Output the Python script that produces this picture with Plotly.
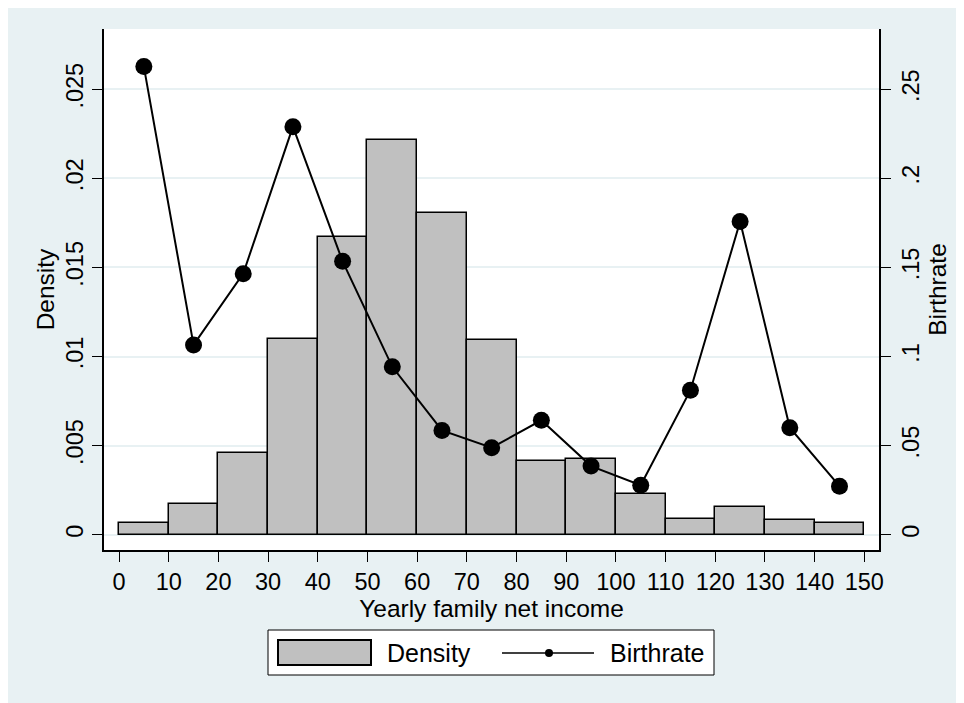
import plotly.graph_objects as go

# ---- data ----
income_mid = [5, 15, 25, 35, 45, 55, 65, 75, 85, 95, 105, 115, 125, 135, 145]
density = [0.00063, 0.0017, 0.00457, 0.01099, 0.0167, 0.02214, 0.01805, 0.01091,
           0.00416, 0.00426, 0.0023, 0.00087, 0.00155, 0.00082, 0.00067]
birthrate = [0.2627, 0.1065, 0.1465, 0.229, 0.1534, 0.0942, 0.0585, 0.0488,
             0.0642, 0.0385, 0.0278, 0.0811, 0.1758, 0.060, 0.0272]
x_ticks = [0, 10, 20, 30, 40, 50, 60, 70, 80, 90, 100, 110, 120, 130, 140, 150]
y1_ticks = [0, 0.005, 0.01, 0.015, 0.02, 0.025]
y1_labels = ["0", ".005", ".01", ".015", ".02", ".025"]
y2_ticks = [0, 0.05, 0.1, 0.15, 0.2, 0.25]
y2_labels = ["0", ".05", ".1", ".15", ".2", ".25"]

BG = "#E8F1F3"
FONT = "Liberation Sans, Arial, sans-serif"
OFF = 8  # page body margin

fig = go.Figure()
fig.add_trace(go.Bar(
    x=income_mid, y=density, width=10, name="Density",
    marker=dict(color="#C0C0C0", line=dict(color="black", width=1.5)),
    showlegend=False,
))
fig.add_trace(go.Scatter(
    x=income_mid, y=birthrate, yaxis="y2", mode="lines+markers", name="Birthrate",
    line=dict(color="black", width=2),
    marker=dict(color="black", size=17),
    showlegend=False,
))

W, H = 964 - OFF, 703
# target screen coordinates of the plot frame
L, R, T, B = 104, 879, 29, 550


def px(x):
    return (x - L) / (R - L)


def py(y):
    return (B - y) / (B - T)


shapes = [
    # legend box
    dict(type="rect", xref="paper", yref="paper",
         x0=px(268), x1=px(714), y0=py(630), y1=py(675),
         fillcolor="white", line=dict(color="black", width=1)),
    # legend bar symbol
    dict(type="rect", xref="paper", yref="paper",
         x0=px(278), x1=px(371), y0=py(640), y1=py(665),
         fillcolor="#C0C0C0", line=dict(color="black", width=2)),
    # legend line symbol
    dict(type="line", xref="paper", yref="paper",
         x0=px(502), x1=px(594), y0=py(653), y1=py(653),
         line=dict(color="black", width=1.5)),
    dict(type="circle", xref="paper", yref="paper",
         xsizemode="pixel", ysizemode="pixel",
         xanchor=px(549), yanchor=py(653), x0=-4, x1=4, y0=-4, y1=4,
         fillcolor="black", line=dict(color="black", width=0)),
]

annotations = [
    dict(text="Density", xref="paper", yref="paper", x=px(385), y=py(653),
         xanchor="left", yanchor="middle", showarrow=False,
         font=dict(family=FONT, size=25, color="black")),
    dict(text="Birthrate", xref="paper", yref="paper", x=px(608), y=py(653),
         xanchor="left", yanchor="middle", showarrow=False,
         font=dict(family=FONT, size=25, color="black")),
]

fig.update_layout(
    width=W, height=H,
    margin=dict(l=L - OFF, r=964 - R, t=T - OFF, b=H + OFF - B, pad=0),
    paper_bgcolor=BG,
    plot_bgcolor="white",
    font=dict(family=FONT, size=23, color="black"),
    bargap=0,
    shapes=shapes,
    annotations=annotations,
    xaxis=dict(
        range=[-3.02, 152.95], tickmode="array", tickvals=x_ticks,
        ticks="outside", ticklen=10, tickwidth=1, tickcolor="black",
        showline=True, linecolor="black", linewidth=1.5,
        showgrid=False, zeroline=False,
        tickfont=dict(size=23.5),
        title=dict(text="Yearly family net income", font=dict(size=24.5), standoff=2),
    ),
    yaxis=dict(
        range=[-0.00086, 0.02838], tickmode="array", tickvals=y1_ticks, ticktext=y1_labels,
        tickangle=-90, ticks="outside", ticklen=10, tickwidth=1, tickcolor="black",
        showline=True, linecolor="black", linewidth=1.5,
        showgrid=True, gridcolor=BG, gridwidth=2, zeroline=False,
        tickfont=dict(size=23.5),
        title=dict(text="Density", font=dict(size=24.5), standoff=0),
    ),
    yaxis2=dict(
        range=[-0.0086, 0.2838], tickmode="array", tickvals=y2_ticks, ticktext=y2_labels,
        overlaying="y", side="right",
        tickangle=-90, ticks="outside", ticklen=10, tickwidth=1, tickcolor="black",
        showline=True, linecolor="black", linewidth=1.5,
        showgrid=False, zeroline=False,
        tickfont=dict(size=23.5),
        title=dict(text="Birthrate", font=dict(size=24.5), standoff=0),
    ),
)

fig.write_html("out.html")
